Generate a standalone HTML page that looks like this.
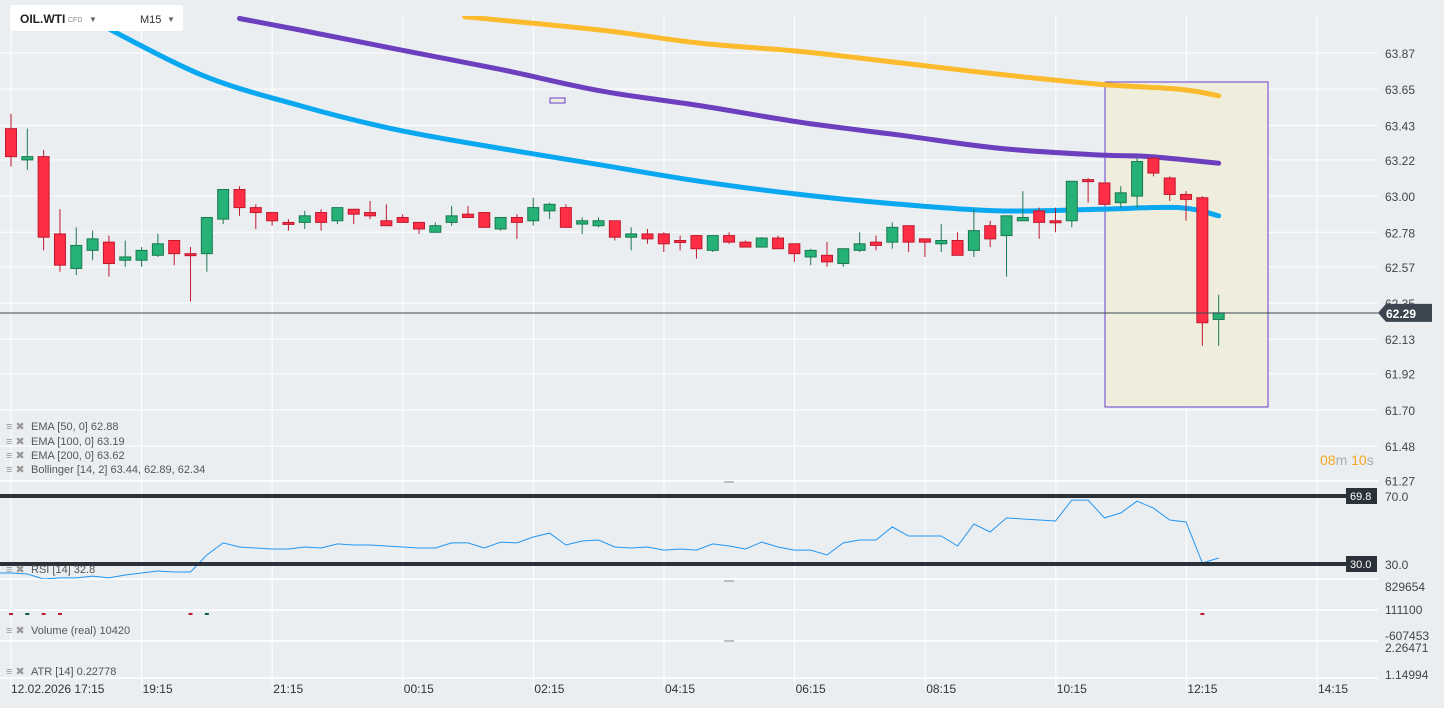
<!DOCTYPE html>
<html><head><meta charset="utf-8"><style>
html,body{margin:0;padding:0;background:#ebeef1;}
svg{display:block;font-family:"Liberation Sans",sans-serif;}
</style></head><body>
<svg id="chart" width="1444" height="708" viewBox="0 0 1444 708" xmlns="http://www.w3.org/2000/svg">
<rect x="0" y="0" width="1444" height="708" fill="#ebeef1"/>
<g id="grid"></g>
<rect x="1105" y="82" width="163" height="325" fill="#efeedd" stroke="#6a3fd0" stroke-width="1"/>
<rect x="550" y="98" width="15" height="5" fill="#efeedd" stroke="#6a3fd0" stroke-width="1"/>
<defs><clipPath id="mainclip"><rect x="0" y="16" width="1378" height="464"/></clipPath>
<clipPath id="rsiclip"><rect x="0" y="482" width="1378" height="97"/></clipPath></defs>
<g id="emas" clip-path="url(#mainclip)"></g>
<g id="candles"></g>
<line x1="0" y1="313" x2="1378" y2="313" stroke="#3b4650" stroke-width="1"/>
<g id="axis"></g>
<g id="rsi"></g>
<g id="vol"></g>
<g id="times"></g>
<g font-size="11" fill="#555">
  <g><text x="6" y="430" fill="#999">≡ ✖</text><text x="31" y="430">EMA  [50,  0] 62.88</text></g>
  <g><text x="6" y="445" fill="#999">≡ ✖</text><text x="31" y="445">EMA  [100,  0] 63.19</text></g>
  <g><text x="6" y="459" fill="#999">≡ ✖</text><text x="31" y="459">EMA  [200,  0] 63.62</text></g>
  <g><text x="6" y="473" fill="#999">≡ ✖</text><text x="31" y="473">Bollinger   [14,  2] 63.44,  62.89,  62.34</text></g>
  <g><text x="6" y="573" fill="#999">≡ ✖</text><text x="31" y="573">RSI  [14]  32.8</text></g>
  <g><text x="6" y="634" fill="#999">≡ ✖</text><text x="31" y="634">Volume  (real)  10420</text></g>
  <g><text x="6" y="675" fill="#999">≡ ✖</text><text x="31" y="675">ATR  [14]  0.22778</text></g>
</g>
<text x="1320" y="465" font-size="14"><tspan fill="#f5a623">08</tspan><tspan fill="#aaa">m </tspan><tspan fill="#f5a623">10</tspan><tspan fill="#aaa">s</tspan></text>
<g>
  <rect x="10" y="5" width="173" height="26" rx="3" fill="#ffffff"/>
  <text x="20" y="23" font-size="12" font-weight="bold" fill="#222">OIL.WTI</text>
  <text x="68" y="22" font-size="7" fill="#888">CFD</text>
  <text x="89" y="22" font-size="8" fill="#666">▼</text>
  <text x="140" y="23" font-size="11" fill="#333">M15</text>
  <text x="167" y="22" font-size="8" fill="#666">▼</text>
</g>
</svg>
<script>
const opens  =[63.41,63.22,63.24,62.77,62.56,62.67,62.72,62.61,62.61,62.64,62.73,62.65,62.65,62.86,63.04,62.93,62.90,62.84,62.84,62.90,62.85,62.92,62.90,62.85,62.87,62.84,62.78,62.84,62.89,62.90,62.80,62.87,62.85,62.91,62.93,62.83,62.82,62.85,62.75,62.77,62.77,62.73,62.76,62.67,62.76,62.72,62.69,62.745,62.71,62.63,62.64,62.59,62.67,62.72,62.72,62.82,62.74,62.71,62.73,62.67,62.82,62.76,62.85,62.91,62.85,62.85,63.10,63.08,62.96,63.00,63.23,63.11,63.01,62.99,62.25];
const highs  =[63.50,63.41,63.28,62.92,62.81,62.79,62.76,62.73,62.69,62.77,62.73,62.69,62.87,63.04,63.06,62.95,62.90,62.86,62.91,62.92,62.93,62.92,62.97,62.95,62.89,62.84,62.84,62.94,62.94,62.90,62.87,62.89,62.99,62.96,62.95,62.87,62.87,62.85,62.81,62.80,62.78,62.76,62.76,62.76,62.78,62.73,62.75,62.76,62.71,62.68,62.72,62.68,62.78,62.76,62.84,62.82,62.74,62.83,62.78,62.92,62.85,62.88,63.03,62.93,62.93,63.09,63.11,63.08,63.06,63.23,63.24,63.12,63.03,63.00,62.40];
const lows   =[63.18,63.16,62.67,62.54,62.52,62.61,62.51,62.57,62.57,62.63,62.58,62.36,62.54,62.83,62.88,62.80,62.82,62.79,62.80,62.79,62.83,62.83,62.86,62.82,62.84,62.77,62.78,62.82,62.87,62.81,62.79,62.74,62.82,62.86,62.81,62.77,62.81,62.73,62.67,62.71,62.66,62.67,62.62,62.66,62.71,62.69,62.69,62.68,62.60,62.58,62.57,62.57,62.66,62.67,62.68,62.66,62.63,62.66,62.64,62.63,62.69,62.51,62.85,62.74,62.78,62.81,62.96,62.95,62.93,62.93,63.12,62.97,62.85,62.09,62.09];
const closes =[63.24,63.24,62.75,62.58,62.70,62.74,62.59,62.63,62.67,62.71,62.65,62.64,62.87,63.04,62.93,62.90,62.85,62.83,62.88,62.84,62.93,62.89,62.88,62.82,62.84,62.80,62.82,62.88,62.87,62.81,62.87,62.84,62.93,62.95,62.81,62.85,62.85,62.75,62.77,62.74,62.71,62.72,62.68,62.76,62.72,62.69,62.745,62.68,62.65,62.67,62.60,62.68,62.71,62.70,62.81,62.72,62.72,62.73,62.64,62.79,62.74,62.88,62.87,62.84,62.84,63.09,63.09,62.95,63.02,63.21,63.14,63.01,62.98,62.23,62.29];
const ema50Idx=[4.8,11.6,17.7,23.8,31.2,36.1,42.2,48.3,54.5,60.6,66.7,71.6,74];
const ema50Val=[64.08,63.74,63.55,63.40,63.27,63.19,63.09,63.01,62.95,62.91,62.92,62.93,62.88];
const ema100Idx=[14,17.7,23.8,30,36.1,42.2,48.3,54.5,60.6,66.7,69.8,74];
const ema100Val=[64.08,64.01,63.89,63.77,63.64,63.55,63.45,63.37,63.29,63.25,63.24,63.20];
const ema200Idx=[27.8,36.1,42.2,48.3,54.5,60.6,66.7,71.6,74];
const ema200Val=[64.09,64.01,63.93,63.88,63.81,63.74,63.68,63.65,63.61];
const rsiVals=[24.7,24.1,21.2,21.8,21.8,22.9,21.8,23.5,24.7,25.9,25.3,25.3,35.3,42.4,40,39.4,38.8,38.8,40,39.4,41.8,41.2,41.2,40.6,40,39.4,39.4,42.4,42.4,39.4,42.9,42.4,45.9,48.2,41.2,43.5,44.1,40,39.4,40,38.2,38.8,38.2,41.8,40.6,38.8,42.9,40,38.2,38.2,35.3,42.4,44.1,44.1,51.8,46.5,46.5,46.5,40.6,53.5,48.8,57.1,56.5,55.9,55.3,67.6,67.6,57.1,60,67,62.9,55.9,54.7,30.6,33.5];
const priceTicks=[63.87,63.65,63.43,63.22,63.00,62.78,62.57,62.35,62.13,61.92,61.70,61.48,61.27];
const timeLabels=["12.02.2026  17:15","19:15","21:15","00:15","02:15","04:15","06:15","08:15","10:15","12:15","14:15"];
const volIdx=[0,1,2,3,11,12,73];
const volUp=[0,1,0,0,0,1,0];
const currentPrice=62.29;

const NS="http://www.w3.org/2000/svg";
function mk(tag,attrs,parent){const e=document.createElementNS(NS,tag);for(const k in attrs)e.setAttribute(k,attrs[k]);parent.appendChild(e);return e;}
const xS=i=>11+i*16.32;
const yS=p=>53+(63.87-p)/0.00608;
const rsiY=v=>496+(70-v)*1.7;

const grid=document.getElementById('grid');
priceTicks.forEach(p=>{const l=mk('line',{x1:0,x2:1378,y1:yS(p),y2:yS(p),stroke:'#ffffff','stroke-width':1},grid);

});
[481,579,610,641,678].forEach(y=>{const l=mk('line',{x1:0,x2:1378,y1:y,y2:y,stroke:'#ffffff','stroke-width':1.5},grid);

});
timeLabels.forEach((t,i)=>{const x=11+i*130.6;const l=mk('line',{x1:x,x2:x,y1:16,y2:690,stroke:'#ffffff','stroke-width':1},grid);

});

const axis=document.getElementById('axis');
priceTicks.forEach(p=>{const t=mk('text',{x:1385,y:yS(p)+5,'font-size':12,fill:'#444'},axis);t.textContent=p.toFixed(2);

});
const cpY=yS(currentPrice);
const lab=mk('path',{d:`M1378 ${cpY} L1386 ${cpY-9} L1432 ${cpY-9} L1432 ${cpY+9} L1386 ${cpY+9} Z`,fill:'#3b4650'},axis);


const lt=mk('text',{x:1386,y:cpY+5,'font-size':12,'font-weight':'bold',fill:'#fff'},axis);lt.textContent=currentPrice.toFixed(2);
[["829654",591],["111100",614],["-607453",640],["2.26471",652],["1.14994",679]].forEach(a=>{const t=mk('text',{x:1385,y:a[1],'font-size':12,fill:'#444'},axis);t.textContent=a[0];

});

const emas=document.getElementById('emas');
function line(idx,vals,color,name){
const pts=idx.map((i,k)=>[xS(i),yS(vals[k])]);
let d='M'+pts[0][0].toFixed(1)+' '+pts[0][1].toFixed(1);
for(let k=0;k<pts.length-1;k++){const p0=pts[Math.max(0,k-1)],p1=pts[k],p2=pts[k+1],p3=pts[Math.min(pts.length-1,k+2)];
const c1=[p1[0]+(p2[0]-p0[0])/6,p1[1]+(p2[1]-p0[1])/6],c2=[p2[0]-(p3[0]-p1[0])/6,p2[1]-(p3[1]-p1[1])/6];
d+=` C${c1[0].toFixed(1)} ${c1[1].toFixed(1)} ${c2[0].toFixed(1)} ${c2[1].toFixed(1)} ${p2[0].toFixed(1)} ${p2[1].toFixed(1)}`;}
const p=mk('path',{d:d,fill:'none',stroke:color,'stroke-width':5,'stroke-linejoin':'round','stroke-linecap':'round'},emas);

}
line(ema200Idx,ema200Val,'#fbbb2c','ema-200-line');
line(ema100Idx,ema100Val,'#6c3fbf','ema-100-line');
line(ema50Idx,ema50Val,'#0aa8f0','ema-50-line');

const cg=document.getElementById('candles');
opens.forEach((o,i)=>{const c=closes[i],up=c>=o;const x=xS(i);
const fill=up?'#26b276':'#ff2e45',st=up?'#1a7a52':'#c0192f';
const w=mk('line',{x1:x,x2:x,y1:yS(highs[i]),y2:yS(lows[i]),stroke:st,'stroke-width':1},cg);


const top=yS(Math.max(o,c)),h=Math.max(2,Math.abs(yS(o)-yS(c)));
const b=mk('rect',{x:x-5.5,y:top,width:11,height:h,fill:fill,stroke:st,'stroke-width':1},cg);

});

const rsi=document.getElementById('rsi');
const rg=mk('g',{'clip-path':'url(#rsiclip)'},rsi);
const rd='M0 '+rsiY(rsiVals[0])+' '+rsiVals.map((v,i)=>'L'+xS(i).toFixed(1)+' '+rsiY(v).toFixed(1)).join(' ');
const rp=mk('path',{d:rd,fill:'none',stroke:'#2196f3','stroke-width':1},rg);


[[70,'69.8','70.0'],[30,'30.0','30.0']].forEach(a=>{const y=rsiY(a[0]);
const l=mk('line',{x1:0,x2:1346,y1:y,y2:y,stroke:'#2b3138','stroke-width':4},rsi);


mk('rect',{x:1346,y:y-8,width:31,height:16,fill:'#2b3138'},rsi);
const t=mk('text',{x:1350,y:y+4,'font-size':11,fill:'#fff'},rsi);t.textContent=a[1];
const t2=mk('text',{x:1385,y:y+5,'font-size':12,fill:'#444'},rsi);t2.textContent=a[2];});

const vol=document.getElementById('vol');
volIdx.forEach((i,k)=>{const r=mk('rect',{x:xS(i)-2,y:613,width:4,height:2,fill:volUp[k]?'#0a5c3c':'#c0192f'},vol);

});

const tg=document.getElementById('times');
timeLabels.forEach((t,i)=>{const x=i===0?11:11+i*130.6+1;const e=mk('text',{x:x,y:693,'font-size':12,fill:'#333'},tg);e.textContent=t;

});
[[729,482],[729,581],[729,641]].forEach(a=>{mk('line',{x1:a[0]-5,x2:a[0]+5,y1:a[1],y2:a[1],stroke:'#888','stroke-width':1},tg);});
</script>
</body></html>
